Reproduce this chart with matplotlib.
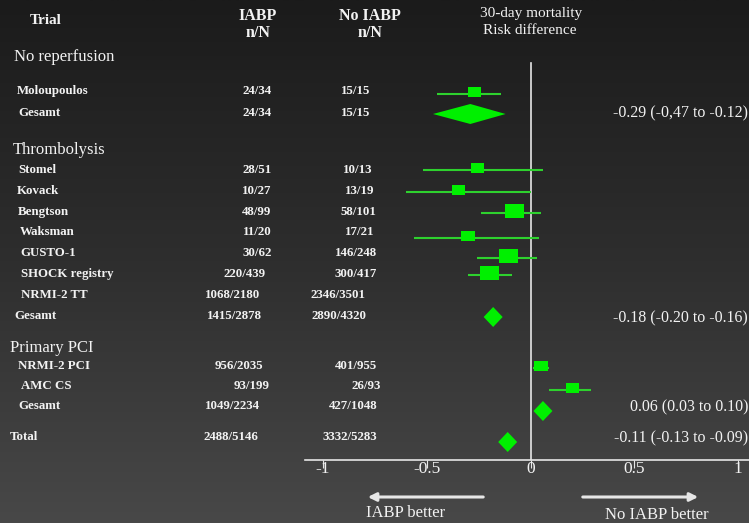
import numpy as np
import matplotlib.pyplot as plt
from matplotlib.path import Path

# Tabla del metaanálisis: mortalidad a 30 días, IABP vs. sin IABP
secciones = ["No reperfusion", "Thrombolysis", "Primary PCI"]

filas = ["Moloupoulos", "Gesamt", "Stomel", "Kovack", "Bengtson", "Waksman",
         "GUSTO-1", "SHOCK registry", "NRMI-2 TT", "Gesamt", "NRMI-2 PCI",
         "AMC CS", "Gesamt", "Total"]
iabp_nN = ["24/34", "24/34", "28/51", "10/27", "48/99", "11/20", "30/62",
           "220/439", "1068/2180", "1415/2878", "956/2035", "93/199",
           "1049/2234", "2488/5146"]
sin_iabp_nN = ["15/15", "15/15", "10/13", "13/19", "58/101", "17/21", "146/248",
               "300/417", "2346/3501", "2890/4320", "401/955", "26/93",
               "427/1048", "3332/5283"]

# Estudios individuales (diferencia de riesgo e IC 95 %)
estudios = ["Moloupoulos", "Stomel", "Kovack", "Bengtson", "Waksman",
            "GUSTO-1", "SHOCK registry", "NRMI-2 PCI", "AMC CS"]
dr_estudio = [-0.27, -0.26, -0.35, -0.08, -0.30, -0.11, -0.20, 0.05, 0.20]
ic_inf_estudio = [-0.45, -0.52, -0.60, -0.24, -0.56, -0.26, -0.30, 0.01, 0.09]
ic_sup_estudio = [-0.14, 0.06, 0.00, 0.05, 0.04, 0.03, -0.09, 0.09, 0.29]

# Estimaciones combinadas
dr_comb = [-0.29, -0.18, 0.06, -0.11]
ic_inf_comb = [-0.47, -0.20, 0.03, -0.13]
ic_sup_comb = [-0.12, -0.16, 0.10, -0.09]
textos_comb = ["-0.29 (-0,47 to -0.12)", "-0.18 (-0.20 to -0.16)",
               "0.06 (0.03 to 0.10)", "-0.11 (-0.13 to -0.09)"]

ticks = [-1, -0.5, 0, 0.5, 1]
tick_textos = ["-1", "-0.5", "0", "0.5", "1"]

# ==========================================
# Disposición (en píxeles de la figura)
# ==========================================
W, H = 749, 523
y_seccion = [57, 150, 348]
x_seccion = [14, 13, 10]
y_fila = [91, 113, 170, 191, 212, 232, 253, 274, 295, 316, 366, 386, 406, 437]
x_nombre = [17, 18, 18, 17, 18, 20, 20, 21, 21, 14, 18, 21, 18, 10]
x_iabp = [257, 257, 257, 257, 257, 257, 257, 245, 233, 234, 239, 252, 232, 231]
x_sin = [356, 356, 358, 360, 358, 360, 356, 356, 338, 339, 356, 366, 353, 350]
y_estudio = [92, 168, 190, 211, 236, 256, 273, 366, 388]
caja_px = [13, 13, 13, 19, 14, 19, 19, 14, 13]
y_comb = [114, 317, 411, 442]
y_texto_comb = [113, 318, 407, 438]
x_texto_comb = [748, 748, 748, 748]

cero_px, escala_px = 530.5, 207.5
eje_izq, eje_y = 305, 460

blanco = "#f2f2f2"
verde = "#00f000"
verde_linea = "#2ed12e"
serif = ["Liberation Serif", "DejaVu Serif"]

fig = plt.figure(figsize=(W / 100, H / 100), dpi=100)

# Fondo degradado
fondo = fig.add_axes([0, 0, 1, 1])
grad = np.linspace(0, 1, 256)[:, None]
fondo.imshow(grad, aspect="auto", extent=(0, W, H, 0),
             cmap=plt.matplotlib.colors.LinearSegmentedColormap.from_list(
                 "g", ["#1b1b1b", "#2e2e2e", "#484848"]))
fondo.set_xlim(0, W)
fondo.set_ylim(H, 0)
fondo.axis("off")

# Encabezados
fondo.text(46, 20, "Trial", color=blanco, fontsize=11, fontweight="bold",
           family=serif, ha="center", va="center")
fondo.text(258, 16, "IABP", color=blanco, fontsize=11.5, fontweight="bold",
           family=serif, ha="center", va="center")
fondo.text(258, 33, "n/N", color=blanco, fontsize=11.5, fontweight="bold",
           family=serif, ha="center", va="center")
fondo.text(370, 16, "No IABP", color=blanco, fontsize=11.5, fontweight="bold",
           family=serif, ha="center", va="center")
fondo.text(370, 33, "n/N", color=blanco, fontsize=11.5, fontweight="bold",
           family=serif, ha="center", va="center")
fondo.text(531, 13, "30-day mortality", color=blanco, fontsize=11,
           family=serif, ha="center", va="center")
fondo.text(530, 31, "Risk difference", color=blanco, fontsize=11,
           family=serif, ha="center", va="center")

for s, x, y in zip(secciones, x_seccion, y_seccion):
    fondo.text(x, y, s, color=blanco, fontsize=12, family=serif,
               ha="left", va="center")

for i, nombre in enumerate(filas):
    fondo.text(x_nombre[i], y_fila[i], nombre, color=blanco, fontsize=9.3,
               fontweight="bold", family=serif, ha="left", va="center")
    fondo.text(x_iabp[i], y_fila[i], iabp_nN[i], color=blanco, fontsize=9.3,
               fontweight="bold", family=serif, ha="center", va="center")
    fondo.text(x_sin[i], y_fila[i], sin_iabp_nN[i], color=blanco, fontsize=9.3,
               fontweight="bold", family=serif, ha="center", va="center")

for t, x, y in zip(textos_comb, x_texto_comb, y_texto_comb):
    fondo.text(x, y, t, color=blanco, fontsize=11.5, family=serif,
               ha="right", va="center")

# Flechas de interpretación
fondo.annotate("", xy=(365, 497), xytext=(486, 497),
               arrowprops=dict(arrowstyle="-|>", color="#e6e6e6", lw=2.2,
                               mutation_scale=12))
fondo.annotate("", xy=(701, 497), xytext=(580, 497),
               arrowprops=dict(arrowstyle="-|>", color="#e6e6e6", lw=2.2,
                               mutation_scale=12))
fondo.text(406, 513, "IABP better", color=blanco, fontsize=12, family=serif,
           ha="center", va="center")
fondo.text(657, 515, "No IABP better", color=blanco, fontsize=12, family=serif,
           ha="center", va="center")

# ==========================================
# Gráfico de bosque
# ==========================================
ax = fig.add_axes([eje_izq / W, (H - eje_y) / H, (W - eje_izq) / W, eje_y / H])
ax.set_facecolor("none")
ax.set_xlim((eje_izq - cero_px) / escala_px, (W - cero_px) / escala_px)
ax.set_ylim(eje_y, 0)
for lado in ["top", "right", "left"]:
    ax.spines[lado].set_visible(False)
ax.spines["bottom"].set_color("#e6e6e6")
ax.spines["bottom"].set_linewidth(1.2)
ax.set_yticks([])
ax.set_xticks(ticks)
ax.set_xticklabels(tick_textos, family=serif, fontsize=12.5, color=blanco)
ax.tick_params(axis="x", colors="#e6e6e6", length=6, width=0.8,
               direction="out", pad=-5, labelcolor=blanco)

# Línea de no efecto
ax.plot([0, 0], [63, eje_y], color="#e6e6e6", lw=1.2)

# Marcador rectangular para los estudios
caja = Path([(-1, -0.72), (1, -0.72), (1, 0.72), (-1, 0.72), (-1, -0.72)],
            [Path.MOVETO, Path.LINETO, Path.LINETO, Path.LINETO, Path.CLOSEPOLY])

for i in range(len(estudios)):
    y = y_estudio[i]
    ax.plot([ic_inf_estudio[i], ic_sup_estudio[i]], [y + 2, y + 2],
            color=verde_linea, lw=1.5, solid_capstyle="butt")
    ax.plot(dr_estudio[i], y, marker=caja, markersize=caja_px[i] * 0.72,
            color=verde, markeredgewidth=0)

# Diamantes de las estimaciones combinadas
medio_min = 9.5 / escala_px
for i in range(len(dr_comb)):
    c, y = dr_comb[i], y_comb[i]
    lo = min(ic_inf_comb[i], c - medio_min)
    hi = max(ic_sup_comb[i], c + medio_min)
    ax.fill([lo, c, hi, c], [y, y - 10, y, y + 10], color=verde, lw=0)

fig.savefig("out.png", dpi=100)
